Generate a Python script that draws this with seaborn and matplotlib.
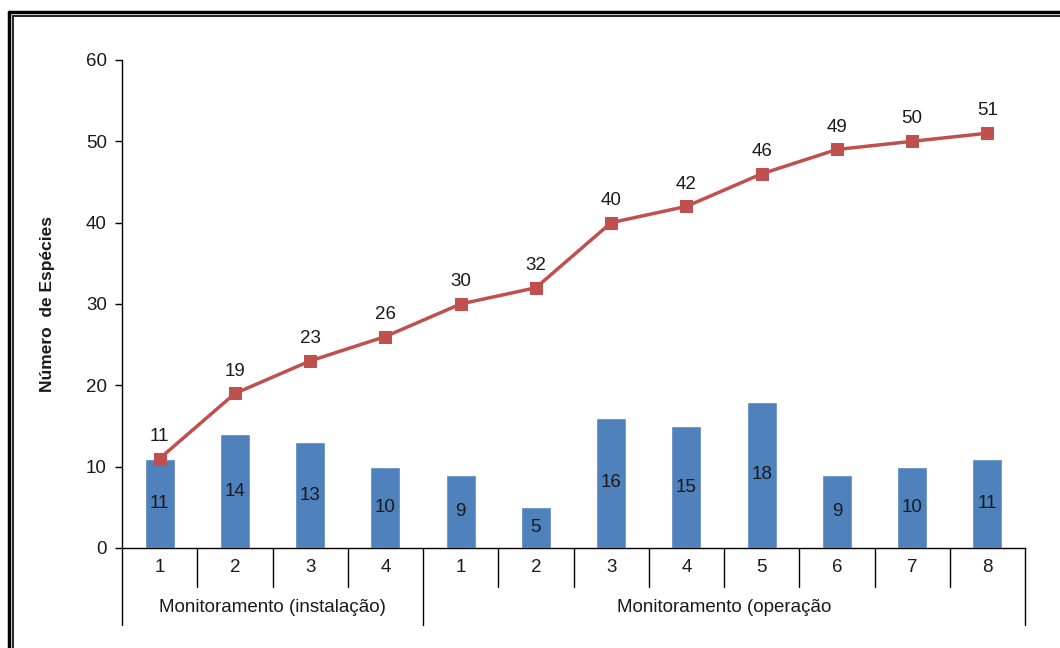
import pandas as pd
import seaborn as sns
import matplotlib.pyplot as plt
from matplotlib.lines import Line2D
import matplotlib.transforms as mtransforms

# data
groups = ['Monitoramento (instalação)', 'Monitoramento (operação']
campaigns_inst = ['1', '2', '3', '4']
campaigns_oper = ['1', '2', '3', '4', '5', '6', '7', '8']
species_per_campaign = [11, 14, 13, 10, 9, 5, 16, 15, 18, 9, 10, 11]
cumulative_species = [11, 19, 23, 26, 30, 32, 40, 42, 46, 49, 50, 51]

tick_labels = campaigns_inst + campaigns_oper
keys = [f'{i}' for i in range(len(tick_labels))]
df = pd.DataFrame({
    'key': keys,
    'label': tick_labels,
    'count': species_per_campaign,
    'cum': cumulative_species,
})

sns.set_theme(style='white')
plt.rcParams['font.family'] = ['Liberation Sans', 'DejaVu Sans']

W, H = 1060, 648
FS = 13.5
TXT = '#1a1a1a'
fig = plt.figure(figsize=(W / 100, H / 100), dpi=100)
ax = fig.add_axes([122 / W, 1 - 548 / H, (1025 - 122) / W, (548 - 60) / H])

bar_color = '#4F81BD'
line_color = '#C0504D'

sns.barplot(data=df, x='key', y='count', order=keys, color=bar_color,
            width=0.4, saturation=1, ax=ax)
sns.lineplot(x=range(len(keys)), y=df['cum'], color=line_color, lw=2.5,
             marker='s', markersize=8, markeredgecolor=line_color, ax=ax)

# labels inside bars (centered)
for i, v in enumerate(species_per_campaign):
    ax.text(i, v / 2, str(v), ha='center', va='center', fontsize=FS,
            color=TXT)
# labels above line points
for i, v in enumerate(cumulative_species):
    ax.annotate(str(v), (i, v), xytext=(0, 10), textcoords='offset points',
                ha='center', va='bottom', fontsize=FS, color=TXT)

ax.set_xlim(-0.5, len(keys) - 0.5)
ax.set_ylim(0, 60)
ax.set_yticks(range(0, 61, 10))
ax.tick_params(axis='y', left=True, length=5, width=1, color='black',
               labelsize=FS, pad=6, labelcolor=TXT)
ax.set_xticks([])
ax.set_xlabel('')
ax.set_ylabel('Número  de Espécies', fontsize=12.5, fontweight='bold',
              labelpad=22, color=TXT)
for side in ['top', 'right']:
    ax.spines[side].set_visible(False)
for side in ['left', 'bottom']:
    ax.spines[side].set_color('black')
    ax.spines[side].set_linewidth(1)

# two-level category axis below the plot
trans = mtransforms.blended_transform_factory(ax.transData, fig.transFigure)
y0 = 1 - 548 / H
y1 = 1 - 587 / H
y2 = 1 - 625 / H
for i, lab in enumerate(tick_labels):
    ax.text(i, 1 - 568 / H, lab, transform=trans, ha='center', va='center',
            fontsize=FS, color=TXT)
for b in range(1, len(keys)):
    if b == len(campaigns_inst):
        continue
    fig.add_artist(Line2D([b - 0.5, b - 0.5], [y0, y1], transform=trans,
                          color='black', lw=1))
for b in [-0.5, len(campaigns_inst) - 0.5, len(keys) - 0.5]:
    fig.add_artist(Line2D([b, b], [y0, y2], transform=trans,
                          color='black', lw=1))
centers = [(len(campaigns_inst) - 1) / 2,
           len(campaigns_inst) + (len(campaigns_oper) - 1) / 2]
for c, g in zip(centers, groups):
    ax.text(c, 1 - 607 / H, g, transform=trans, ha='center', va='center',
            fontsize=FS, color=TXT)

# double frame around the figure (top and left visible)
fig.add_artist(Line2D([8.5 / W, 8.5 / W], [0, 1 - 11.5 / H],
                      transform=fig.transFigure, color='black', lw=2.5))
fig.add_artist(Line2D([8.5 / W, 1], [1 - 11.5 / H, 1 - 11.5 / H],
                      transform=fig.transFigure, color='black', lw=2.5))
fig.add_artist(Line2D([13 / W, 13 / W], [0, 1 - 15.5 / H],
                      transform=fig.transFigure, color='black', lw=1.2))
fig.add_artist(Line2D([13 / W, 1], [1 - 15.5 / H, 1 - 15.5 / H],
                      transform=fig.transFigure, color='black', lw=1.2))

fig.savefig('out.png', dpi=100)
